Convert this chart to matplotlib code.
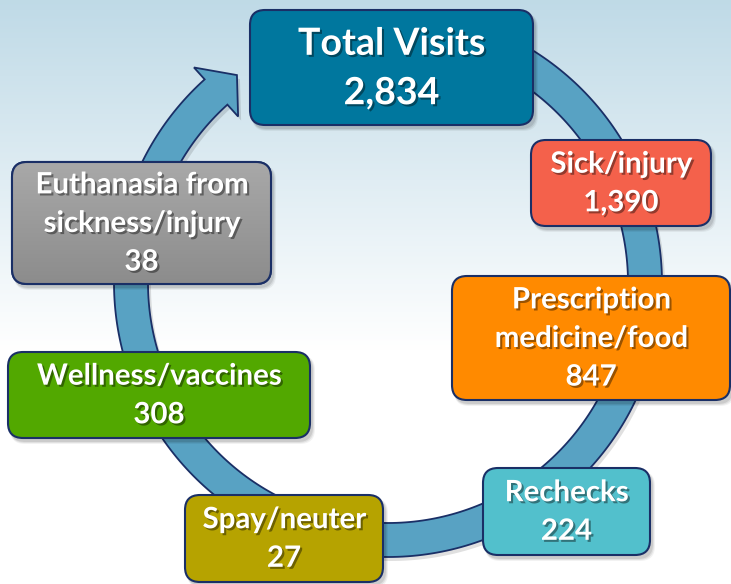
import numpy as np
import matplotlib
matplotlib.use("Agg")
import matplotlib.pyplot as plt
import matplotlib.patheffects as pe
from matplotlib.patches import FancyBboxPatch, Polygon

plt.rcParams['font.family'] = ['Lato', 'DejaVu Sans']

# data
labels = ["Total Visits", "Sick/injury", "Prescription\nmedicine/food", "Rechecks",
          "Spay/neuter", "Wellness/vaccines", "Euthanasia from\nsickness/injury"]
visits = [2834, 1390, 847, 224, 27, 308, 38]
box_colors = ["#00779e", "#f4614b", "#ff8a00", "#52c0cc", "#b6a300", "#52a800", "#9c9c9c"]

# layout (pixel coords: x0, y0, x1, y1)
box_xyxy = [(250, 10, 533, 125), (531, 140, 711, 226), (452, 276, 730, 400),
            (483, 468, 650, 555), (185, 495, 383, 582), (8, 352, 310, 438),
            (12, 162, 271, 284)]

W, H = 731, 584
fig = plt.figure(figsize=(W / 100, H / 100), dpi=100)
ax = fig.add_axes([0, 0, 1, 1])
ax.set_xlim(0, W)
ax.set_ylim(H, 0)
ax.axis('off')

# background: light blue fading to white
top = np.array([0.75, 0.855, 0.905])
t = np.clip(np.linspace(0, 1, H) / 0.6, 0, 1)[:, None]
bg = top * (1 - t) + np.ones(3) * t
ax.imshow(np.repeat(bg[:, None, :], 2, axis=1), extent=[0, W, H, 0], aspect='auto', zorder=0)

# circular arrow
cx, cy, r_mid, half = 388, 283, 257, 17
phi_start, phi_end = np.deg2rad(-80), np.deg2rad(228)
phis = np.linspace(phi_start, phi_end, 300)
outer = np.c_[cx + (r_mid + half) * np.cos(phis), cy + (r_mid + half) * np.sin(phis)]
inner = np.c_[cx + (r_mid - half) * np.cos(phis[::-1]), cy + (r_mid - half) * np.sin(phis[::-1])]
tip_phi = np.deg2rad(234)
head = np.array([
    [cx + 290 * np.cos(phi_end), cy + 290 * np.sin(phi_end)],
    [cx + r_mid * np.cos(tip_phi), cy + r_mid * np.sin(tip_phi)],
    [cx + 224 * np.cos(phi_end), cy + 224 * np.sin(phi_end)],
])
ring = np.vstack([outer, head, inner])
ax.add_patch(Polygon(ring + [3, 4], closed=True, facecolor='black', alpha=0.12,
                     edgecolor='none', zorder=1))
ax.add_patch(Polygon(ring, closed=True, facecolor='#58a2c3', edgecolor='#1a2f66',
                     linewidth=1.3, zorder=2))

text_fx = [pe.withSimplePatchShadow(offset=(1.5, -1.5), shadow_rgbFace='black', alpha=0.4)]

for i, (lab, val, col, (x0, y0, x1, y1)) in enumerate(zip(labels, visits, box_colors, box_xyxy)):
    w, h = x1 - x0, y1 - y0
    # soft shadow
    for k, a in [(6, 0.05), (4, 0.07), (2, 0.09)]:
        ax.add_patch(FancyBboxPatch((x0 + 2, y0 + 3), w + k * 0.5, h + k * 0.5,
                                    boxstyle="round,pad=0,rounding_size=15",
                                    facecolor='black', alpha=a, edgecolor='none', zorder=3))
    box = FancyBboxPatch((x0, y0), w, h, boxstyle="round,pad=0,rounding_size=15",
                         facecolor=col, edgecolor='#1a2f66', linewidth=1.5, zorder=4)
    ax.add_patch(box)
    if lab.startswith("Euthanasia"):
        # grey gradient box
        g = np.linspace(0, 1, 50)[:, None]
        grad = np.array([0.66, 0.66, 0.66]) * (1 - g) + np.array([0.55, 0.55, 0.55]) * g
        im = ax.imshow(np.repeat(grad[:, None, :], 2, axis=1), extent=[x0, x1, y1, y0],
                       aspect='auto', zorder=4.5)
        im.set_clip_path(box)
        ax.add_patch(FancyBboxPatch((x0, y0), w, h, boxstyle="round,pad=0,rounding_size=15",
                                    facecolor='none', edgecolor='#1a2f66', linewidth=1.5, zorder=5))
    fs = 27 if i == 0 else 21.2
    ls = 1.55 if i == 0 else 1.6
    ax.text((x0 + x1) / 2, (y0 + y1) / 2 + 1, f"{lab}\n{val:,}", ha='center', va='center',
            fontsize=fs, fontweight='bold', color='white', linespacing=ls,
            path_effects=text_fx, zorder=6)

fig.savefig("out.png", dpi=100)
